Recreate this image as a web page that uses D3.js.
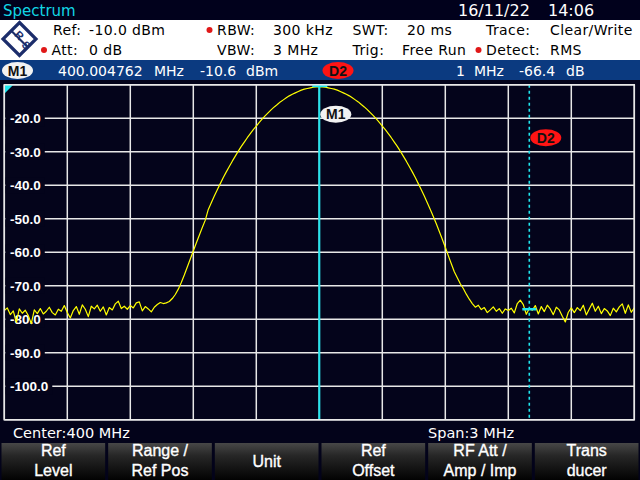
<!DOCTYPE html>
<html>
<head>
<meta charset="utf-8">
<script src="https://cdn.jsdelivr.net/npm/d3@7"></script>
<style>
  html, body { margin: 0; padding: 0; background: #03031a; }
  svg { display: block; }
</style>
</head>
<body>
<svg id="chart" width="640" height="480"></svg>
<script>
// ---- data ----
const centerMHz = 400;
const spanMHz = 3;
const refLevel = -10;      // dBm, top of grid
const levelRange = 100;    // dB over the 10 divisions

const traceStartMHz = 398.5;
const traceStepMHz = 3 / 210;
const traceLevels = [
  -77.4, -76.6, -78.6, -77.5, -80.9, -76.9, -78.2, -77.3, -78.9, -81.3,
  -77.2, -78.3, -76.8, -78.4, -77.6, -76.4, -78.0, -78.7, -77.0, -77.6,
  -75.9, -78.0, -79.6, -77.4, -76.2, -78.5, -75.7, -77.0, -79.2, -76.1,
  -76.9, -75.8, -77.6, -76.3, -78.7, -76.5, -77.2, -75.4, -74.6, -76.8,
  -76.1, -77.0, -75.9, -76.6, -75.1, -74.8, -77.5, -76.2, -76.9, -77.8,
  -76.4, -75.6, -75.0, -75.3, -75.1,
  -74.7, -73.8, -72.6, -71.0, -69.0, -66.8, -64.4, -62.0, -59.6, -57.2,
  -54.9, -52.6, -50.4, -47.2, -45.2, -43.2, -41.3, -39.5, -37.7, -36.0,
  -34.4, -32.8, -31.3, -29.8, -28.4, -27.1, -25.8, -24.6, -23.4, -22.3,
  -21.2, -20.2, -19.2, -18.3, -17.4, -16.6, -15.9, -15.1, -14.5, -13.9,
  -13.3, -12.8, -12.4, -12.0, -11.6, -11.3, -11.1, -10.9, -10.7, -10.6,
  -10.6,
  -10.6, -10.7, -10.9, -11.1, -11.3, -11.6, -12.0, -12.4, -12.8, -13.3,
  -13.9, -14.5, -15.1, -15.9, -16.6, -17.4, -18.3, -19.2, -20.2, -21.2,
  -22.3, -23.4, -24.6, -25.8, -27.1, -28.4, -29.8, -31.3, -32.8, -34.4,
  -36.0, -37.7, -39.5, -41.3, -43.2, -45.2, -47.2, -49.3, -51.5, -53.8,
  -56.1, -58.5, -61.0, -63.4, -65.8, -67.6, -69.4, -70.8, -72.5, -74.0,
  -75.3, -76.4, -75.8, -77.1, -76.5, -78.0, -77.2, -76.3, -77.6, -76.8,
  -78.2, -76.9, -77.4, -76.7, -78.1, -75.3, -74.3, -75.6, -78.5, -76.8,
  -77.3, -75.9, -78.4, -76.2, -77.7, -75.8, -76.9, -78.6, -76.4, -77.2,
  -79.1, -80.8, -77.9, -76.6, -78.0, -76.5, -77.4, -75.8, -78.7, -76.9,
  -75.2, -77.6, -76.1, -78.3, -76.8, -77.5, -78.9, -76.7, -77.8, -76.3,
  -75.4, -78.2, -75.7, -77.9, -76.6
];

const yTickValues = [-20, -30, -40, -50, -60, -70, -80, -90, -100];
const yTickLabels = ["-20.0", "-30.0", "-40.0", "-50.0", "-60.0", "-70.0", "-80.0", "-90.0", "-100.0"];

const marker1 = { name: "M1", freqMHz: 400.004762, level: -10.6 };
const delta2 = { name: "D2", offsetMHz: 1, relLevel: -66.4 };

const settingNames = ["Ref:", "Att:", "RBW:", "VBW:", "SWT:", "Trig:", "Trace:", "Detect:"];
const settingValues = ["-10.0 dBm", "0 dB", "300 kHz", "3 MHz", "20 ms", "Free Run", "Clear/Write", "RMS"];
const settingCoupled = [false, true, true, false, false, false, false, true];

const screenTitle = "Spectrum";
const dateText = "16/11/22";
const timeText = "14:06";

const softkeyLabels = [
  ["Ref", "Level"], ["Range /", "Ref Pos"], ["Unit"],
  ["Ref", "Offset"], ["RF Att /", "Amp / Imp"], ["Trans", "ducer"]
];

// ---- layout ----
const W = 640, H = 480;
const plot = { left: 4.3, right: 634.3, top: 84.8, bottom: 419.8 };
const uiFont = "'DejaVu Sans', sans-serif";
const keyFont = "'Liberation Sans', Arial, sans-serif";

const svg = d3.select("#chart");

const x = d3.scaleLinear()
  .domain([centerMHz - spanMHz / 2, centerMHz + spanMHz / 2])
  .range([plot.left, plot.right]);
const y = d3.scaleLinear()
  .domain([refLevel - levelRange, refLevel])
  .range([plot.bottom, plot.top]);

const defs = svg.append("defs");
const grad = defs.append("linearGradient")
  .attr("id", "keyGrad").attr("x1", 0).attr("y1", 0).attr("x2", 0).attr("y2", 1);
grad.append("stop").attr("offset", "0%").attr("stop-color", "#474747");
grad.append("stop").attr("offset", "35%").attr("stop-color", "#262626");
grad.append("stop").attr("offset", "100%").attr("stop-color", "#020202");

defs.append("clipPath").attr("id", "plotClip")
  .append("rect")
    .attr("x", plot.left).attr("y", plot.top)
    .attr("width", plot.right - plot.left).attr("height", plot.bottom - plot.top);

// backgrounds
svg.append("rect").attr("width", W).attr("height", H).attr("fill", "#03031a");
svg.append("rect").attr("width", W).attr("height", 20).attr("fill", "#01011c");
svg.append("rect").attr("y", 20).attr("width", W).attr("height", 40).attr("fill", "#ffffff");
svg.append("rect").attr("y", 60).attr("width", W).attr("height", 20).attr("fill", "#0b3a80");

// title bar
svg.append("text")
  .attr("x", 3).attr("y", 16)
  .attr("font-family", uiFont).attr("font-size", 15)
  .attr("fill", "#12d6e6")
  .text(screenTitle);
svg.append("text")
  .attr("x", 458).attr("y", 16)
  .attr("font-family", uiFont).attr("font-size", 16)
  .attr("fill", "#ffffff").text(dateText);
svg.append("text")
  .attr("x", 548).attr("y", 16)
  .attr("font-family", uiFont).attr("font-size", 16)
  .attr("fill", "#ffffff").text(timeText);

// R&S logo
const logo = svg.append("g").attr("transform", "translate(19.5,39)");
logo.append("path")
  .attr("d", "M0,-16.5 L16.5,0 L0,16.5 L-16.5,0 Z")
  .attr("fill", "none").attr("stroke", "#1c2d6b").attr("stroke-width", 3.2);
logo.append("line")
  .attr("x1", -8).attr("y1", -8).attr("x2", 8).attr("y2", 8)
  .attr("stroke", "#1c2d6b").attr("stroke-width", 2.2);
logo.append("text")
  .attr("x", -3).attr("y", -1)
  .attr("transform", "rotate(45,-3,-1)")
  .attr("text-anchor", "middle")
  .attr("font-family", keyFont).attr("font-weight", "bold").attr("font-size", 11)
  .attr("fill", "#1c2d6b").text("R");
logo.append("text")
  .attr("x", 4).attr("y", 9)
  .attr("transform", "rotate(45,4,9)")
  .attr("text-anchor", "middle")
  .attr("font-family", keyFont).attr("font-weight", "bold").attr("font-size", 11)
  .attr("fill", "#1c2d6b").text("S");

// instrument settings (two rows, four columns)
const nameX = [53, 51.5, 217, 217, 352.5, 352.5, 486, 486];
const valueX = [89, 89, 273, 273, 407, 402, 550, 550];
settingNames.forEach((name, i) => {
  const base = i % 2 === 0 ? 35 : 55;
  svg.append("text")
    .attr("x", nameX[i]).attr("y", base)
    .attr("font-family", uiFont).attr("font-size", 14)
    .attr("letter-spacing", 0.4)
    .attr("fill", "#000000").text(name);
  svg.append("text")
    .attr("x", valueX[i]).attr("y", base)
    .attr("font-family", uiFont).attr("font-size", 14)
    .attr("letter-spacing", 0.4)
    .attr("fill", "#000000").text(settingValues[i]);
  if (settingCoupled[i]) {
    svg.append("circle")
      .attr("cx", nameX[i] - 7.5).attr("cy", base - 5).attr("r", 3)
      .attr("fill", "#e01818");
  }
});

// marker info bar
const d2Freq = marker1.freqMHz + delta2.offsetMHz;
const d2Level = marker1.level + delta2.relLevel;

function badge(g, cx, cy, label, fill) {
  g.append("ellipse")
    .attr("cx", cx).attr("cy", cy).attr("rx", 15.5).attr("ry", 8.5)
    .attr("fill", fill);
  g.append("text")
    .attr("x", cx).attr("y", cy + 5)
    .attr("text-anchor", "middle")
    .attr("font-family", keyFont).attr("font-weight", "bold").attr("font-size", 14)
    .attr("fill", "#111111").text(label);
}

badge(svg, 17.5, 70.5, marker1.name, "#f2f2f2");
badge(svg, 338, 70.5, delta2.name, "#ff1414");

const barText = (tx, t) => svg.append("text")
  .attr("x", tx).attr("y", 76)
  .attr("font-family", uiFont).attr("font-size", 14)
  .attr("fill", "#ffffff").text(t);
barText(58, marker1.freqMHz.toFixed(6));
barText(154, "MHz");
barText(200, marker1.level.toFixed(1));
barText(246, "dBm");
barText(456, String(delta2.offsetMHz));
barText(474, "MHz");
barText(519, delta2.relLevel.toFixed(1));
barText(566, "dB");

// plot area
svg.append("rect")
  .attr("x", plot.left).attr("y", plot.top)
  .attr("width", plot.right - plot.left).attr("height", plot.bottom - plot.top)
  .attr("fill", "#04041b");

const gridFreqs = d3.range(0, 11).map(i => centerMHz - spanMHz / 2 + i * spanMHz / 10);
const gridLevels = d3.range(0, 11).map(i => refLevel - i * levelRange / 10);

svg.append("g").selectAll("line").data(gridFreqs).join("line")
  .attr("x1", d => x(d)).attr("x2", d => x(d))
  .attr("y1", plot.top).attr("y2", plot.bottom)
  .attr("stroke", "#e8e8e8").attr("stroke-width", 1.5);
svg.append("g").selectAll("line").data(gridLevels).join("line")
  .attr("x1", plot.left).attr("x2", plot.right)
  .attr("y1", d => y(d)).attr("y2", d => y(d))
  .attr("stroke", "#e8e8e8").attr("stroke-width", 1.5);

// corner flag
svg.append("path")
  .attr("d", `M${plot.left},${plot.top} l9,0 l-9,9 Z`)
  .attr("fill", "#1fe6ef");

// level labels on dark patches
const labelG = svg.append("g");
yTickValues.forEach((v, i) => {
  const patch = labelG.append("rect").attr("fill", "#04041b");
  const t = labelG.append("text")
    .attr("x", 10).attr("y", y(v) + 5)
    .attr("font-family", keyFont).attr("font-weight", "bold").attr("font-size", 13.5)
    .attr("fill", "#ffffff").text(yTickLabels[i]);
  const w = t.node().getComputedTextLength();
  patch.attr("x", plot.left + 1).attr("y", y(v) - 8)
    .attr("width", 10 + w + 4 - plot.left - 1).attr("height", 16);
});

// trace
const line = d3.line()
  .x((d, i) => x(traceStartMHz + i * traceStepMHz))
  .y(d => y(d));
svg.append("path")
  .datum(traceLevels)
  .attr("clip-path", "url(#plotClip)")
  .attr("fill", "none")
  .attr("stroke", "#ffff00")
  .attr("stroke-width", 1.2)
  .attr("stroke-linejoin", "round")
  .attr("d", line);

// marker M1
const m1x = x(centerMHz) ;
svg.append("line")
  .attr("x1", m1x).attr("x2", m1x)
  .attr("y1", plot.top).attr("y2", plot.bottom)
  .attr("stroke", "#1fe6ef").attr("stroke-width", 2);
svg.append("line")
  .attr("x1", m1x - 7).attr("x2", m1x + 8)
  .attr("y1", y(marker1.level) - 1.2).attr("y2", y(marker1.level) - 1.2)
  .attr("stroke", "#1fe6ef").attr("stroke-width", 3);
badge(svg, m1x + 16.5, plot.top + 29.5, marker1.name, "#f2f2f2");

// delta marker D2
const d2x = x(d2Freq) - 1;
svg.append("line")
  .attr("x1", d2x).attr("x2", d2x)
  .attr("y1", plot.top).attr("y2", plot.bottom)
  .attr("stroke", "#1fe6ef").attr("stroke-width", 1.6)
  .attr("stroke-dasharray", "3,3");
svg.append("line")
  .attr("x1", d2x - 7).attr("x2", d2x + 7)
  .attr("y1", y(d2Level)).attr("y2", y(d2Level))
  .attr("stroke", "#1fe6ef").attr("stroke-width", 2.5);
badge(svg, d2x + 16.5, plot.top + 53, delta2.name, "#ff1414");

// frame on top
svg.append("rect")
  .attr("x", plot.left).attr("y", plot.top)
  .attr("width", plot.right - plot.left).attr("height", plot.bottom - plot.top)
  .attr("fill", "none").attr("stroke", "#e8e8e8").attr("stroke-width", 1.5);

// center / span
svg.append("text")
  .attr("x", 13).attr("y", 438)
  .attr("font-family", uiFont).attr("font-size", 14.5)
  .attr("fill", "#ffffff").text(`Center:${centerMHz} MHz`);
svg.append("text")
  .attr("x", 428).attr("y", 438)
  .attr("font-family", uiFont).attr("font-size", 14.5)
  .attr("fill", "#ffffff").text(`Span:${spanMHz} MHz`);

// softkeys
const keyW = W / softkeyLabels.length;
const keys = svg.append("g").selectAll("g").data(softkeyLabels).join("g")
  .attr("transform", (d, i) => `translate(${i * keyW},443)`);
keys.append("rect")
  .attr("x", 1.5).attr("width", keyW - 3).attr("height", 37)
  .attr("fill", "url(#keyGrad)");
keys.each(function (d) {
  const g = d3.select(this);
  const baselines = d.length === 2 ? [12.5, 32.5] : [24];
  d.forEach((t, j) => {
    g.append("text")
      .attr("x", keyW / 2).attr("y", baselines[j])
      .attr("text-anchor", "middle")
      .attr("font-family", keyFont).attr("font-size", 16)
      .attr("fill", "#ffffff")
      .attr("stroke", "#ffffff").attr("stroke-width", 0.35)
      .text(t);
  });
});
</script>
</body>
</html>
